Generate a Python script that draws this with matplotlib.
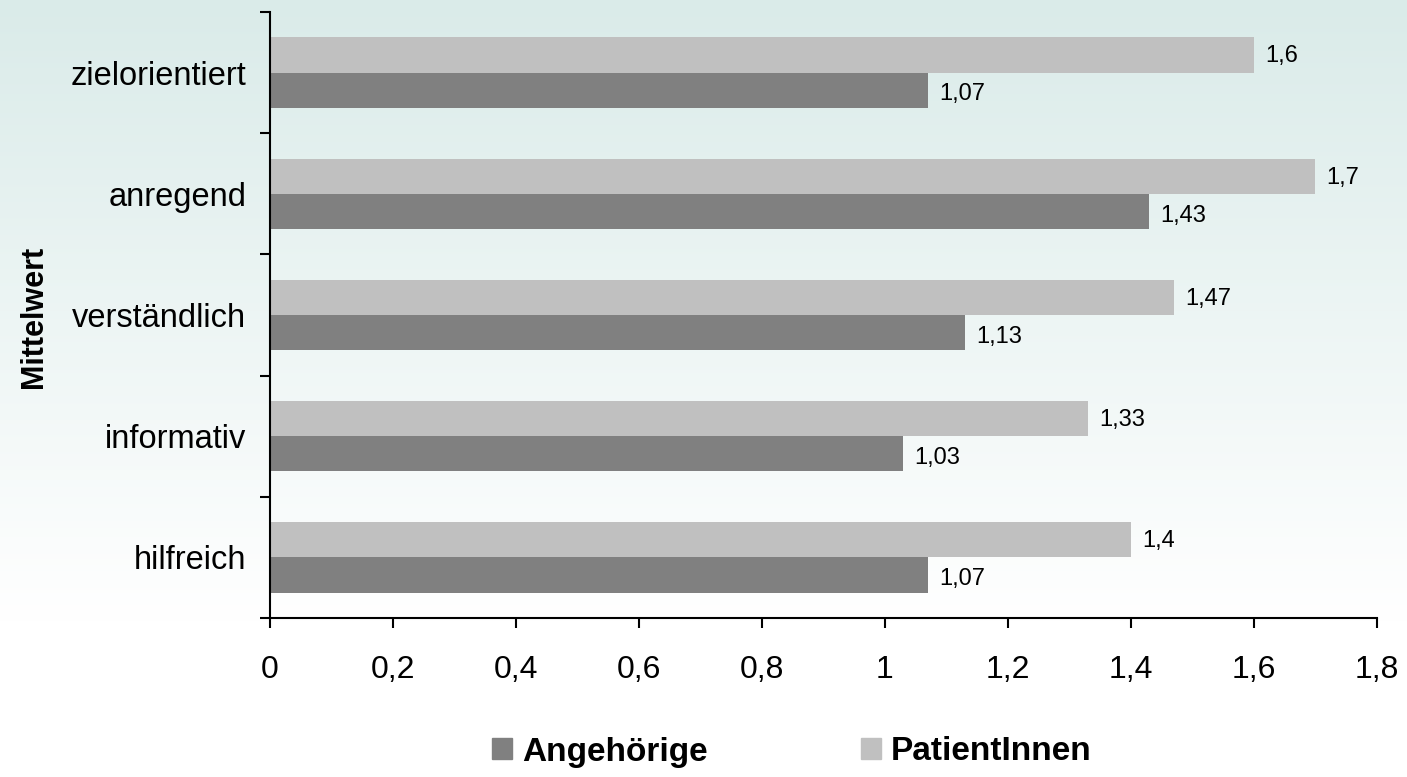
import matplotlib
matplotlib.use("Agg")
import matplotlib.pyplot as plt
import numpy as np
from matplotlib.patches import Patch

categories = ["hilfreich", "informativ", "verständlich", "anregend", "zielorientiert"]
angehoerige = [1.07, 1.03, 1.13, 1.43, 1.07]
patienten = [1.4, 1.33, 1.47, 1.7, 1.6]
series_names = ["Angehörige", "PatientInnen"]
xticks = [0, 0.2, 0.4, 0.6, 0.8, 1.0, 1.2, 1.4, 1.6, 1.8]

def fmt(v):
    s = f"{v:.2f}".rstrip("0").rstrip(".")
    return s.replace(".", ",")

plt.rcParams['font.family'] = ['Liberation Sans', 'DejaVu Sans']

fig = plt.figure(figsize=(14.07, 7.77), dpi=100)

# background gradient
bg = fig.add_axes([0, 0, 1, 1], zorder=-10)
top = np.array([218, 235, 233]) / 255.0
n = 777
t = np.clip(np.linspace(0, 1, n) / 0.8, 0, 1)[:, None]
grad = top[None, :] * (1 - t) + np.ones(3)[None, :] * t
img = np.repeat(grad[:, None, :], 10, axis=1)
bg.imshow(img, aspect='auto', extent=[0, 1, 0, 1], origin='upper')
bg.axis('off')

ax = fig.add_axes([270/1407, 1 - 618/777, (1377-270)/1407, (618-12)/777])
ax.patch.set_alpha(0)

y = np.arange(len(categories))
h = 0.29
dark = "#808080"
light = "#c0c0c0"
b1 = ax.barh(y - h/2, angehoerige, height=h, color=dark)
b2 = ax.barh(y + h/2, patienten, height=h, color=light)

for rect, v in zip(b1, angehoerige):
    ax.annotate(fmt(v), (rect.get_width(), rect.get_y() + rect.get_height()/2),
                xytext=(8, -3), textcoords='offset points', va='center', ha='left', fontsize=17)
for rect, v in zip(b2, patienten):
    ax.annotate(fmt(v), (rect.get_width(), rect.get_y() + rect.get_height()/2),
                xytext=(8, -1), textcoords='offset points', va='center', ha='left', fontsize=17)

ax.set_xlim(0, 1.8)
ax.set_ylim(-0.5, len(categories) - 0.5)
ax.set_xticks(xticks)
ax.set_xticklabels([fmt(v) for v in xticks], fontsize=23)
ax.tick_params(axis='x', length=7, width=1.5, pad=20, direction='out')

ax.set_yticks(y)
ax.set_yticklabels(categories, fontsize=23.5)
ax.tick_params(axis='y', which='major', length=0, pad=17)
ax.set_yticks(np.arange(-0.5, len(categories), 1.0), minor=True)
ax.tick_params(axis='y', which='minor', length=7, width=1.5, direction='out')

for s in ['top', 'right']:
    ax.spines[s].set_visible(False)
for s in ['left', 'bottom']:
    ax.spines[s].set_linewidth(1.5)

fig.text(0.024, 1 - 317/777, "Mittelwert", rotation=90, fontsize=22, fontweight='bold',
         va='center', ha='center')

handles = [Patch(color=dark), Patch(color=light)]
fig.legend(handles, series_names, loc='center', bbox_to_anchor=(0.563, 1 - 752/777), ncol=2,
           frameon=False, prop={'size': 24, 'weight': 'bold'}, handlelength=0.6,
           handleheight=0.6, handletextpad=0.3, columnspacing=4.6)

fig.savefig("out.png", dpi=100)
